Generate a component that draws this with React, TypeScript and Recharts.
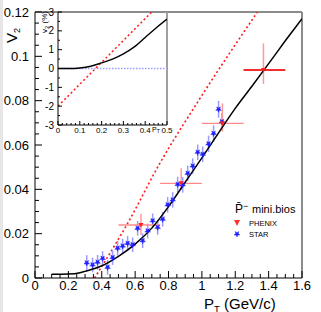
import { ComposedChart, Line, Scatter, ErrorBar, XAxis, YAxis, ReferenceLine } from "recharts";

// main panel: v2 vs pT
const xMajor = [0, 0.2, 0.4, 0.6, 0.8, 1, 1.2, 1.4, 1.6];
const xMinor = [0.05, 0.1, 0.15, 0.25, 0.3, 0.35, 0.45, 0.5, 0.55, 0.65, 0.7, 0.75, 0.85, 0.9, 0.95, 1.05, 1.1, 1.15, 1.25, 1.3, 1.35, 1.45, 1.5, 1.55];
const yMajor = [0, 0.02, 0.04, 0.06, 0.08, 0.1, 0.12];
const yMinor = [0.005, 0.01, 0.015, 0.025, 0.03, 0.035, 0.045, 0.05, 0.055, 0.065, 0.07, 0.075, 0.085, 0.09, 0.095, 0.105, 0.11, 0.115];

const fitPt = [0.1, 0.2, 0.27, 0.3, 0.4, 0.5, 0.6, 0.7, 0.8, 0.9, 1.0, 1.1, 1.2, 1.3, 1.4, 1.5, 1.6];
const fitV2 = [0.0017, 0.0018, 0.0024, 0.003, 0.0055, 0.0098, 0.0153, 0.0225, 0.0322, 0.0432, 0.0542, 0.0655, 0.0765, 0.0865, 0.0967, 0.107, 0.117];

const hydroPt = [0.357, 0.55, 0.75, 0.98, 1.333];
const hydroV2 = [0, 0.024, 0.052, 0.08, 0.12];

const starPt = [0.31, 0.345, 0.375, 0.405, 0.435, 0.465, 0.495, 0.525, 0.555, 0.585, 0.615, 0.645, 0.675, 0.705, 0.735, 0.765, 0.795, 0.825, 0.855, 0.885, 0.915, 0.945, 0.975, 1.005, 1.04, 1.07, 1.1, 1.12];
const starV2 = [0.0068, 0.0059, 0.0071, 0.0088, 0.0048, 0.0092, 0.0134, 0.0144, 0.0156, 0.015, 0.0224, 0.0168, 0.0212, 0.0258, 0.0228, 0.0265, 0.033, 0.0352, 0.0422, 0.042, 0.0472, 0.0505, 0.0567, 0.0558, 0.0605, 0.0652, 0.0761, 0.0705];
const starErr = [0.0035, 0.0033, 0.0033, 0.0033, 0.0033, 0.0033, 0.0033, 0.0033, 0.0033, 0.0033, 0.0033, 0.0033, 0.0033, 0.0033, 0.0033, 0.0033, 0.0035, 0.0035, 0.0035, 0.0035, 0.0035, 0.0035, 0.0035, 0.0035, 0.0037, 0.0037, 0.0038, 0.0038];

const phenixPt = [0.635, 0.876, 1.123, 1.369];
const phenixV2 = [0.0239, 0.0427, 0.0698, 0.0938];
const phenixPtLo = [0.135, 0.126, 0.123, 0.119];
const phenixPtHi = [0.115, 0.124, 0.127, 0.131];
const phenixV2Lo = [0.0045, 0.003, 0.0038, 0.0063];
const phenixV2Hi = [0.0051, 0.0068, 0.009, 0.012];

// inset: v2 (%) at low pT
const insetXMajor = [0, 0.1, 0.2, 0.3, 0.4, 0.5];
const insetXMinor = [0.02, 0.04, 0.06, 0.08, 0.12, 0.14, 0.16, 0.18, 0.22, 0.24, 0.26, 0.28, 0.32, 0.34, 0.36, 0.38, 0.42, 0.44, 0.46, 0.48];
const insetYMajor = [-3, -2, -1, 0, 1, 2, 3];
const insetYMinor = [-2.5, -1.5, -0.5, 0.5, 1.5, 2.5];

const insetFitPt = [0, 0.05, 0.1, 0.15, 0.2, 0.25, 0.3, 0.35, 0.4, 0.45, 0.5];
const insetFitV2 = [0, 0, 0.03, 0.12, 0.3, 0.5, 0.78, 1.15, 1.65, 2.15, 2.62];
const insetHydroPt = [0, 0.43];
const insetHydroV2 = [-2, 3];

const fit = fitPt.map((x, i) => ({ x, y: fitV2[i] }));
const hydro = hydroPt.map((x, i) => ({ x, y: hydroV2[i] }));
const star = starPt.map((x, i) => ({ x, y: starV2[i], ey: starErr[i] }));
const phenix = phenixPt.map((x, i) => ({
  x,
  y: phenixV2[i],
  ex: [phenixPtLo[i], phenixPtHi[i]],
  ey: [phenixV2Lo[i], phenixV2Hi[i]],
}));
const insetFit = insetFitPt.map((x, i) => ({ x, y: insetFitV2[i] }));
const insetHydro = insetHydroPt.map((x, i) => ({ x, y: insetHydroV2[i] }));

const FONT = "'Liberation Sans', Arial, sans-serif";

const xTick = (majors: number[], big: number, small: number, fs: number, dy: number) => (p: any) => {
  const v = p.payload.value;
  const major = majors.includes(v);
  return (
    <g>
      <line x1={p.x} x2={p.x} y1={p.y} y2={p.y - (major ? big : small)} stroke="#000" />
      {major && (
        <text x={p.x} y={p.y + dy} textAnchor="middle" fontSize={fs} fontFamily={FONT} fill="#000">
          {String(v)}
        </text>
      )}
    </g>
  );
};

const yTick = (majors: number[], big: number, small: number, fs: number, gap: number) => (p: any) => {
  const v = p.payload.value;
  const major = majors.includes(v);
  return (
    <g>
      <line x1={p.x} x2={p.x + (major ? big : small)} y1={p.y} y2={p.y} stroke="#000" />
      {major && (
        <text x={p.x - gap} y={p.y + fs * 0.36} textAnchor="end" fontSize={fs} fontFamily={FONT} fill="#000">
          {String(v)}
        </text>
      )}
    </g>
  );
};

const StarMark = (p: any) => {
  const { cx, cy } = p;
  const pts: string[] = [];
  for (let k = 0; k < 10; k++) {
    const r = k % 2 === 0 ? 3 : 1.3;
    const a = Math.PI / 2 + (k * Math.PI) / 5;
    pts.push(`${cx + r * Math.cos(a)},${cy + r * Math.sin(a)}`);
  }
  return <polygon points={pts.join(" ")} fill="#1f1fff" stroke="#1f1fff" strokeWidth={0.5} />;
};

const TriMark = (p: any) => {
  const { cx, cy } = p;
  return <polygon points={`${cx - 2.5},${cy - 2} ${cx + 2.5},${cy - 2} ${cx},${cy + 2.5}`} fill="#ff2020" />;
};

const NoMark = () => null;

export default function App() {
  return (
    <div style={{ position: "absolute", left: 0, top: 0, width: 321, height: 312, background: "#fff", overflow: "hidden" }}>
      <div style={{ position: "absolute", left: 0, top: 0, width: 3, height: 312, background: "#e6e6e6" }} />
      <div style={{ position: "absolute", left: 0, top: 0 }}>
        <ComposedChart width={321} height={312} margin={{ top: 12, right: 19, left: 0, bottom: 0 }}>
          <XAxis
            dataKey="x"
            type="number"
            domain={[0, 1.6]}
            allowDataOverflow
            ticks={[...xMajor, ...xMinor]}
            interval={0}
            height={34}
            tickSize={0}
            tickMargin={0}
            tickLine={false}
            axisLine={{ stroke: "#000" }}
            tick={xTick(xMajor, 7, 4, 13, 12)}
          />
          <YAxis
            dataKey="y"
            type="number"
            domain={[0, 0.12]}
            allowDataOverflow
            ticks={[...yMajor, ...yMinor]}
            interval={0}
            width={35}
            tickSize={0}
            tickMargin={0}
            tickLine={false}
            axisLine={{ stroke: "#000" }}
            tick={yTick(yMajor, 7, 4, 13, 6)}
          />
          <ReferenceLine y={0.12} stroke="#8c8c8c" strokeWidth={2} />
          <ReferenceLine x={1.6} stroke="#8c8c8c" strokeWidth={2} />
          <Line data={hydro} dataKey="y" type="monotone" stroke="#ff1a1a" strokeWidth={1.6} strokeDasharray="2 2.5" dot={false} isAnimationActive={false} />
          <Scatter data={star} fill="#1f1fff" shape={StarMark} isAnimationActive={false}>
            <ErrorBar dataKey="ey" direction="y" width={0} stroke="#9a9aff" strokeWidth={1.5} />
          </Scatter>
          <Scatter data={phenix} fill="#ff2020" shape={TriMark} isAnimationActive={false}>
            <ErrorBar dataKey="ex" direction="x" width={0} stroke="#ff8a8a" strokeWidth={1.3} />
            <ErrorBar dataKey="ey" direction="y" width={0} stroke="#ff9a9a" strokeWidth={1.5} />
          </Scatter>
          <Scatter data={phenix.slice(3)} shape={NoMark} isAnimationActive={false}>
            <ErrorBar dataKey="ex" direction="x" width={0} stroke="#ee0000" strokeWidth={1.5} />
          </Scatter>
          <Line data={fit} dataKey="y" type="monotone" stroke="#000" strokeWidth={1.5} dot={false} isAnimationActive={false} />
        </ComposedChart>
      </div>
      <div style={{ position: "absolute", left: 0, top: 0 }}>
        <ComposedChart width={175} height={140} margin={{ top: 12, right: 8, left: 0, bottom: 0 }}>
          <XAxis
            dataKey="x"
            type="number"
            domain={[0, 0.5]}
            allowDataOverflow
            ticks={[...insetXMajor, ...insetXMinor]}
            interval={0}
            height={15}
            tickSize={0}
            tickMargin={0}
            tickLine={false}
            axisLine={{ stroke: "#000" }}
            tick={xTick(insetXMajor, 4, 2, 8, 7.5)}
          />
          <YAxis
            dataKey="y"
            type="number"
            domain={[-3, 3]}
            allowDataOverflow
            ticks={[...insetYMajor, ...insetYMinor]}
            interval={0}
            width={58}
            tickSize={0}
            tickMargin={0}
            tickLine={false}
            axisLine={{ stroke: "#000" }}
            tick={yTick(insetYMajor, 4, 2, 10, 4)}
          />
          <ReferenceLine x={0.5} stroke="#a0a0a0" strokeWidth={2} />
          <ReferenceLine y={0} stroke="#9a9aff" strokeWidth={1.3} strokeDasharray="1.5 1.5" />
          <Line data={insetHydro} dataKey="y" type="linear" stroke="#ff1a1a" strokeWidth={1.5} strokeDasharray="2 2.5" dot={false} isAnimationActive={false} />
          <Line data={insetFit} dataKey="y" type="monotone" stroke="#000" strokeWidth={1.4} dot={false} isAnimationActive={false} />
        </ComposedChart>
      </div>
      <svg width={321} height={312} style={{ position: "absolute", left: 0, top: 0, pointerEvents: "none" }} fontFamily={FONT}>
        <g transform="translate(17,43) rotate(-90)">
          <text x={0} y={0} fontSize={15}>
            V<tspan fontSize={9} dy={3}>2</tspan>
          </text>
        </g>
        <g transform="translate(47,33) rotate(-90)">
          <text x={0} y={0} fontSize={8}>
            v<tspan fontSize={6} dy={2}>2</tspan>
            <tspan dy={-2}> (%)</tspan>
          </text>
        </g>
        <text x={152} y={131.5} fontSize={7}>
          P<tspan fontSize={5} dy={1.5}>T</tspan>
        </text>
        <text x={204} y={308.5} fontSize={15}>
          P<tspan fontSize={9.5} dy={3}>T</tspan>
          <tspan dy={-3}> (GeV/c)</tspan>
        </text>
        <text x={235} y={213} fontSize={12}>
          P̄<tspan fontSize={9} dy={-4}>−</tspan>
        </text>
        <text x={252} y={213} fontSize={11}>mini.bios</text>
        <polygon points="234,220 240,220 237,226" fill="#ff3030" />
        <text x={249} y={225.5} fontSize={7.5}>PHENIX</text>
        <StarMark cx={237} cy={234} />
        <text x={249} y={236.5} fontSize={7.5}>STAR</text>
      </svg>
    </div>
  );
}
